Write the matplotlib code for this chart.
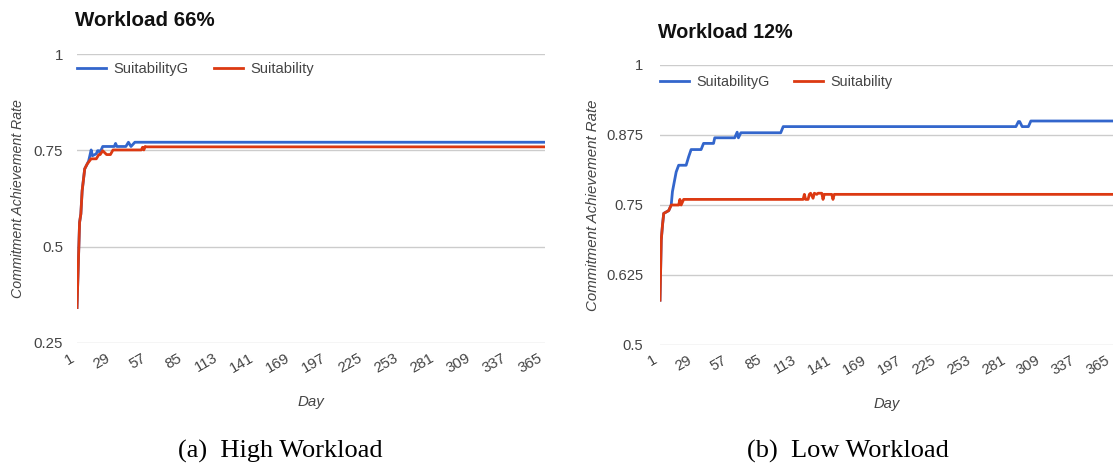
import matplotlib
matplotlib.use("Agg")
import matplotlib.pyplot as plt
from matplotlib.transforms import ScaledTranslation

# Commitment achievement rate per day, listed at the days where the curve changes
high_g_days = [1, 3, 4, 5, 7, 9, 10, 11, 12, 13, 16, 17, 18, 19, 21, 30, 31, 32, 39, 41, 43, 46, 365]
high_g_vals = [0.342, 0.563, 0.585, 0.645, 0.702, 0.715, 0.722, 0.736, 0.751, 0.736, 0.741, 0.749,
               0.749, 0.745, 0.760, 0.760, 0.768, 0.760, 0.760, 0.771, 0.760, 0.771, 0.771]

high_s_days = [1, 3, 4, 5, 7, 9, 12, 16, 18, 19, 21, 24, 27, 29, 51, 52, 53, 54, 55, 365]
high_s_vals = [0.342, 0.563, 0.585, 0.645, 0.702, 0.715, 0.728, 0.728, 0.739, 0.739, 0.749, 0.739,
               0.739, 0.751, 0.751, 0.758, 0.751, 0.760, 0.759, 0.759]

low_g_days = [1, 2, 3, 4, 8, 10, 11, 14, 16, 22, 24, 26, 34, 36, 44, 45, 61, 63, 64, 66, 98, 100,
              287, 289, 290, 292, 297, 299, 365]
low_g_vals = [0.580, 0.6875, 0.714, 0.735, 0.740, 0.750, 0.774, 0.809, 0.821, 0.821, 0.836, 0.849,
              0.849, 0.860, 0.860, 0.870, 0.870, 0.880, 0.870, 0.879, 0.879, 0.890,
              0.890, 0.899, 0.899, 0.890, 0.890, 0.900, 0.900]

low_s_days = [1, 2, 3, 4, 8, 10, 16, 17, 18, 20, 116, 117, 118, 120, 121, 122, 124, 125, 127, 128,
              131, 132, 133, 139, 140, 141, 365]
low_s_vals = [0.580, 0.6875, 0.714, 0.735, 0.740, 0.750, 0.750, 0.760, 0.750, 0.760, 0.760, 0.769,
              0.760, 0.760, 0.769, 0.771, 0.762, 0.771, 0.769, 0.771, 0.771, 0.760, 0.769, 0.769,
              0.760, 0.769, 0.769]

day_ticks = list(range(1, 366, 28))
high_yticks = [0.25, 0.5, 0.75, 1.0]
high_ylabels = ["0.25", "0.5", "0.75", "1"]
low_yticks = [0.5, 0.625, 0.75, 0.875, 1.0]
low_ylabels = ["0.5", "0.625", "0.75", "0.875", "1"]

BLUE = "#3366cc"
RED = "#dc3912"
GRID = "#cccccc"
TXT = "#444444"

plt.rcParams["font.family"] = ["Liberation Sans", "DejaVu Sans"]

W, H = 1114, 470
fig = plt.figure(figsize=(W / 100, H / 100), dpi=100)


def px_axes(x0, x1, ytop, ybot):
    return fig.add_axes([x0 / W, 1 - ybot / H, (x1 - x0) / W, (ybot - ytop) / H])


def style(ax, yticks, ylabels, ylim, ypad, fs):
    ax.set_xlim(1, 365)
    ax.set_ylim(*ylim)
    for s in ax.spines.values():
        s.set_visible(False)
    ax.set_yticks(yticks)
    ax.set_yticklabels(ylabels)
    ax.set_xticks(day_ticks)
    ax.set_xticklabels([str(d) for d in day_ticks], rotation=30, ha="right", va="center",
                       rotation_mode="anchor")
    ax.tick_params(axis="both", length=0, labelcolor=TXT, labelsize=fs)
    ax.tick_params(axis="y", pad=ypad)
    ax.tick_params(axis="x", pad=10)
    shift = ScaledTranslation(-4 / 100, 0, fig.dpi_scale_trans)
    for lab in ax.get_xticklabels():
        lab.set_transform(lab.get_transform() + shift)
    ax.grid(axis="y", color=GRID, lw=1)
    ax.set_axisbelow(True)


# High workload panel
ax1 = px_axes(77, 545, 54, 343)
style(ax1, high_yticks, high_ylabels, (0.25, 1.0), 10, 10.8)
ax1.plot(high_g_days, high_g_vals, color=BLUE, lw=2, label="SuitabilityG", solid_joinstyle="round")
ax1.plot(high_s_days, high_s_vals, color=RED, lw=2, label="Suitability", solid_joinstyle="round")
ax1.legend(loc="upper left", bbox_to_anchor=(0, 0.972), ncol=2, frameon=False, borderaxespad=0,
           borderpad=0, fontsize=10.6, handlelength=2.0, handletextpad=0.5, columnspacing=1.7,
           labelcolor=TXT)
ax1.set_xlabel("Day", fontstyle="italic", color=TXT, fontsize=10.8, labelpad=14)
ax1.set_ylabel("Commitment Achievement Rate", fontstyle="italic", color=TXT, fontsize=10.2)
ax1.yaxis.set_label_coords(-52 / 468, 0.5)
fig.text(75 / W, 1 - 20 / H, "Workload 66%", fontsize=14.8, fontweight="bold", va="center",
         ha="left", color="#111111")

# Low workload panel
ax2 = px_axes(660, 1113, 65, 345)
style(ax2, low_yticks, low_ylabels, (0.5, 1.0), 12, 10.6)
ax2.plot(low_g_days, low_g_vals, color=BLUE, lw=2, label="SuitabilityG", solid_joinstyle="round")
ax2.plot(low_s_days, low_s_vals, color=RED, lw=2, label="Suitability", solid_joinstyle="round")
ax2.legend(loc="upper left", bbox_to_anchor=(0, 0.963), ncol=2, frameon=False, borderaxespad=0,
           borderpad=0, fontsize=10.4, handlelength=2.0, handletextpad=0.5, columnspacing=1.7,
           labelcolor=TXT)
ax2.set_xlabel("Day", fontstyle="italic", color=TXT, fontsize=10.6, labelpad=14)
ax2.set_ylabel("Commitment Achievement Rate", fontstyle="italic", color=TXT, fontsize=10.8)
ax2.yaxis.set_label_coords(-60 / 453, 0.5)
fig.text(658 / W, 1 - 33 / H, "Workload 12%", fontsize=14.2, fontweight="bold", va="center",
         ha="left", color="#111111")

# Sub-figure captions
fig.text(280 / W, 1 - 451 / H, "(a)  High Workload", fontsize=19, family="Liberation Serif",
         ha="center", va="center", color="black")
fig.text(848 / W, 1 - 451 / H, "(b)  Low Workload", fontsize=19, family="Liberation Serif",
         ha="center", va="center", color="black")

fig.savefig("out.png", dpi=100)
